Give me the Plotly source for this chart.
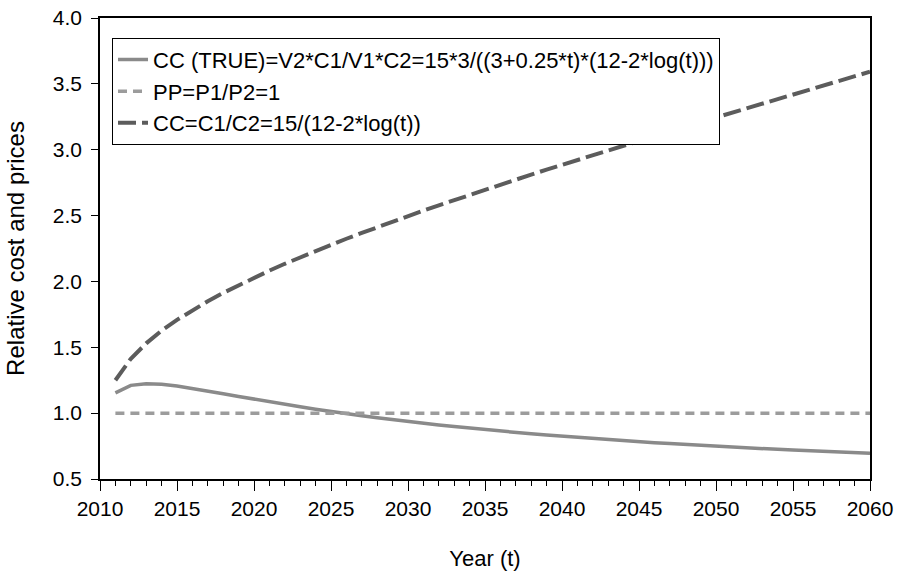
import plotly.graph_objects as go

years = list(range(2011, 2061))

cc_true = [1.154, 1.211, 1.224, 1.220, 1.206, 1.188, 1.168, 1.148, 1.127, 1.106,
           1.086, 1.067, 1.048, 1.030, 1.012, 0.996, 0.980, 0.965, 0.950, 0.936,
           0.923, 0.910, 0.898, 0.886, 0.875, 0.864, 0.853, 0.843, 0.834, 0.825,
           0.816, 0.807, 0.799, 0.791, 0.783, 0.776, 0.769, 0.762, 0.755, 0.749,
           0.743, 0.737, 0.731, 0.725, 0.720, 0.715, 0.710, 0.705, 0.700, 0.695]

pp = [1.0] * 50

cc = [1.250, 1.413, 1.530, 1.626, 1.708, 1.782, 1.850, 1.913, 1.972, 2.028,
      2.082, 2.134, 2.183, 2.232, 2.278, 2.324, 2.368, 2.412, 2.455, 2.496,
      2.538, 2.578, 2.618, 2.658, 2.697, 2.735, 2.773, 2.811, 2.849, 2.886,
      2.923, 2.959, 2.996, 3.032, 3.068, 3.104, 3.139, 3.175, 3.210, 3.245,
      3.280, 3.315, 3.350, 3.385, 3.419, 3.454, 3.489, 3.523, 3.558, 3.592]

names = ["CC (TRUE)=V2*C1/V1*C2=15*3/((3+0.25*t)*(12-2*log(t)))",
         "PP=P1/P2=1",
         "CC=C1/C2=15/(12-2*log(t))"]

FONT = "Liberation Sans, Arial, sans-serif"

fig = go.Figure()
fig.add_trace(go.Scatter(x=years, y=cc_true, mode="lines", name=names[0],
                         line=dict(color="#8a8a8a", width=3.5)))
fig.add_trace(go.Scatter(x=years, y=pp, mode="lines", name=names[1],
                         line=dict(color="#9c9c9c", width=3.5, dash="9px,6px")))
fig.add_trace(go.Scatter(x=years, y=cc, mode="lines", name=names[2],
                         line=dict(color="#5c5c5c", width=4, dash="18px,6px")))

fig.update_layout(
    width=901, height=571,
    margin=dict(l=100, r=31, t=18, b=92),
    paper_bgcolor="white", plot_bgcolor="white",
    font=dict(family=FONT, color="black"),
    showlegend=True,
    legend=dict(x=0.0156, y=0.957, xanchor="left", yanchor="top",
                bordercolor="black", borderwidth=1, bgcolor="white",
                font=dict(size=22, family=FONT), tracegroupgap=0),
    xaxis=dict(range=[2010, 2060], tickmode="linear", tick0=2010, dtick=5,
               ticks="outside", ticklen=10, tickwidth=1, tickcolor="black",
               showline=True, linecolor="black", linewidth=1.5, mirror=True,
               showgrid=False, zeroline=False, automargin=False,
               ticklabeloverflow="allow",
               tickfont=dict(size=21),
               minor=dict(dtick=1, tick0=2010, ticks="outside", ticklen=5,
                          tickcolor="black", showgrid=False),
               title=dict(text="Year (t)", font=dict(size=22), standoff=38)),
    yaxis=dict(range=[0.5, 4.0], tickmode="linear", tick0=0.5, dtick=0.5,
               tickformat=".1f", automargin=False,
               ticklabeloverflow="allow", ticklabelstandoff=5,
               ticks="outside", ticklen=7, tickwidth=1, tickcolor="black",
               showline=True, linecolor="black", linewidth=1.5, mirror=True,
               showgrid=False, zeroline=False,
               tickfont=dict(size=21),
               title=dict(text="Relative cost and prices", font=dict(size=24),
                          standoff=21)),
)

# remove the default 8px page margin so the figure fills the window exactly
fig.write_html("out.html",
               config={"displayModeBar": False},
               post_script="document.body.style.margin='0';")
